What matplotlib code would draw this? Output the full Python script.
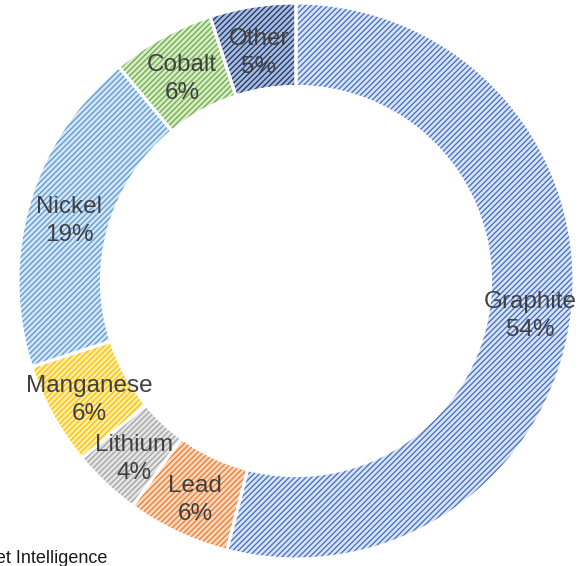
import matplotlib.pyplot as plt
import numpy as np

# Données : part de chaque matériau (en %)
materiaux = ["Graphite", "Lead", "Lithium", "Manganese", "Nickel", "Cobalt", "Other"]
parts = [54, 6, 4, 6, 19, 6, 5]
source = "Source: S&P Global Market Intelligence"

# Couleurs de fond et couleurs des hachures
fonds = ["#dae3f5", "#fbd8c0", "#e4e4e4", "#ffedaa", "#d6e5f5", "#d6ebc8", "#a9bbe0"]
hachures = ["#4472c4", "#ed7d31", "#a5a5a5", "#ffc000", "#5b9bd5", "#70ad47", "#203864"]

plt.rcParams['hatch.linewidth'] = 0.95

fig = plt.figure(figsize=(5.8, 5.66), dpi=100)
ax = fig.add_axes([0, 0, 1, 1])

# Anneau : largeur relative du trou
largeur = 0.3

# Première couche : remplissage + hachures
wedges, _ = ax.pie(parts, startangle=90, counterclock=False, radius=1,
                   colors=fonds, wedgeprops=dict(width=largeur, linewidth=0))
for w, hc in zip(wedges, hachures):
    w.set_hatch('//////')
    w.set_edgecolor(hc)
    w.set_linewidth(0)

# Deuxième couche : séparations blanches
ax.pie(parts, startangle=90, counterclock=False, radius=1,
       colors=['none'] * len(parts),
       wedgeprops=dict(width=largeur, edgecolor='white', linewidth=2.2))

# Étiquettes au milieu de l'anneau
r_lab = 1 - largeur / 2
for w, nom, p in zip(wedges, materiaux, parts):
    a = np.deg2rad((w.theta1 + w.theta2) / 2)
    ax.text(r_lab * np.cos(a), r_lab * np.sin(a), f"{nom}\n{p}%",
            ha='center', va='center_baseline', fontsize=17.5, color='#404040',
            family='Liberation Sans', linespacing=1.35)

ax.set_xlim(-1.0647, 1.0216)
ax.set_ylim(-1.0252, 1.0108)
ax.set_aspect('auto')
ax.axis('off')

# Source, coupée à gauche comme dans l'original
fig.text(107 / 580, 3 / 566, source, ha='right', va='baseline',
         fontsize=13, color='#1a1a1a', family='Liberation Sans')

fig.savefig("out.png", dpi=100)
